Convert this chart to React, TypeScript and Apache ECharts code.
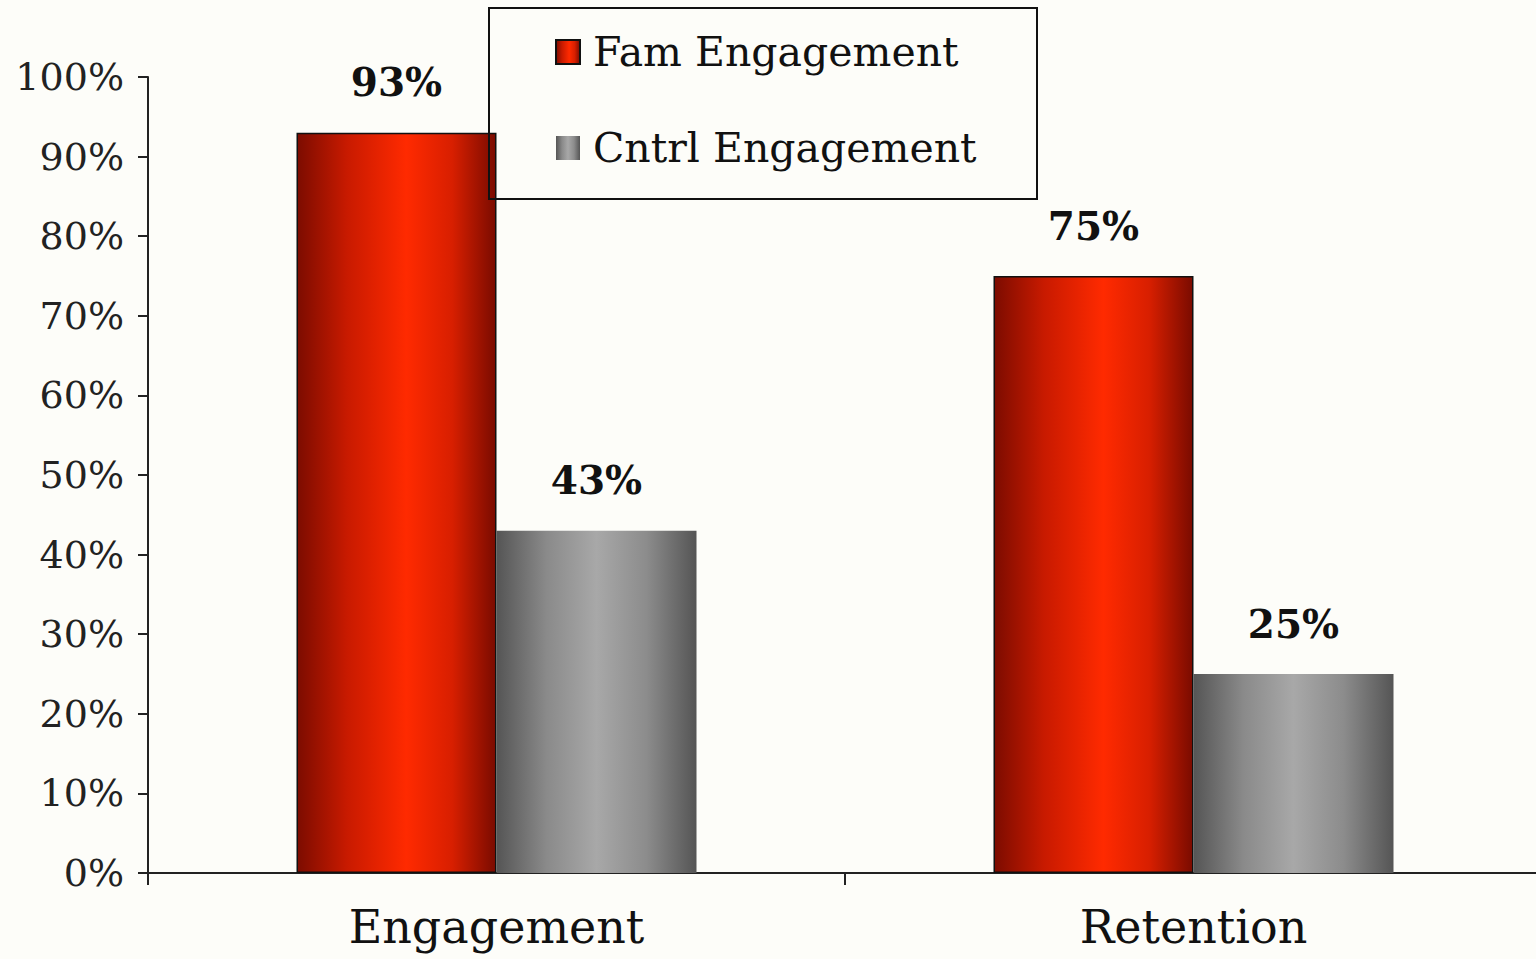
import React, { useEffect, useRef } from "react";
import * as echarts from "echarts";

const categories = ["Engagement", "Retention"];
const famValues = [93, 75];
const cntrlValues = [43, 25];
const seriesNames = ["Fam Engagement", "Cntrl Engagement"];

const FONT = "'DejaVu Serif', serif";

const redGrad = new echarts.graphic.LinearGradient(0, 0, 1, 0, [
  { offset: 0, color: "#7c0c00" },
  { offset: 0.25, color: "#c81a00" },
  { offset: 0.55, color: "#ff2a00" },
  { offset: 0.78, color: "#d81f00" },
  { offset: 1, color: "#7a0b00" },
]);
const grayGrad = new echarts.graphic.LinearGradient(0, 0, 1, 0, [
  { offset: 0, color: "#555555" },
  { offset: 0.25, color: "#8a8a8a" },
  { offset: 0.5, color: "#a8a8a8" },
  { offset: 0.75, color: "#8c8c8c" },
  { offset: 1, color: "#555555" },
]);

export default function App() {
  const ref = useRef<HTMLDivElement>(null);
  useEffect(() => {
    if (!ref.current) return;
    const chart = echarts.init(ref.current, null, { renderer: "svg" });
    const labelStyle = {
      show: true,
      position: "top",
      distance: 31,
      fontFamily: FONT,
      fontWeight: "bold",
      fontSize: 39,
      color: "#111",
      formatter: (p: any) => p.value + "%",
    };
    chart.setOption({
      animation: false,
      backgroundColor: "#fdfdf9",
      textStyle: { fontFamily: FONT },
      grid: { left: 148, top: 77, right: 0, bottom: 86, containLabel: false },
      legend: {
        orient: "vertical",
        left: 555,
        top: 27,
        padding: 0,
        itemWidth: 24,
        itemHeight: 24,
        itemGap: 46,
        icon: "rect",
        data: seriesNames,
        textStyle: {
          fontFamily: FONT,
          fontSize: 41,
          color: "#111",
          lineHeight: 50,
          padding: [0, 0, 0, 8],
        },
      },
      graphic: [
        {
          type: "rect",
          z: 100,
          shape: { x: 489, y: 8, width: 548, height: 191 },
          style: { fill: "transparent", stroke: "#111", lineWidth: 2 },
        },
      ],
      xAxis: {
        type: "category",
        data: categories,
        axisLine: { lineStyle: { color: "#222", width: 2 } },
        axisTick: { show: true, length: 12, lineStyle: { color: "#222", width: 2 } },
        axisLabel: { fontFamily: FONT, fontSize: 46, color: "#111", margin: 31 },
      },
      yAxis: {
        type: "value",
        min: 0,
        max: 100,
        interval: 10,
        splitLine: { show: false },
        axisLine: { show: true, lineStyle: { color: "#222", width: 2 } },
        axisTick: { show: true, length: 10, lineStyle: { color: "#222", width: 2 } },
        axisLabel: {
          fontFamily: FONT,
          fontSize: 38,
          color: "#222",
          margin: 24,
          formatter: (v: number) => v + "%",
        },
      },
      series: [
        {
          name: seriesNames[0],
          type: "bar",
          data: famValues,
          barWidth: 200,
          barGap: "0%",
          itemStyle: { color: redGrad, borderColor: "#111", borderWidth: 1.5 },
          label: labelStyle,
        },
        {
          name: seriesNames[1],
          type: "bar",
          data: cntrlValues,
          barWidth: 200,
          barGap: "0%",
          itemStyle: { color: grayGrad },
          label: labelStyle,
        },
      ],
    });
    return () => chart.dispose();
  }, []);
  return (
    <div
      style={{
        position: "absolute",
        left: 0,
        top: 0,
        width: 1536,
        height: 959,
        overflow: "hidden",
        background: "#fdfdf9",
      }}
    >
      <div ref={ref} style={{ width: 1542, height: 959 }} />
    </div>
  );
}
